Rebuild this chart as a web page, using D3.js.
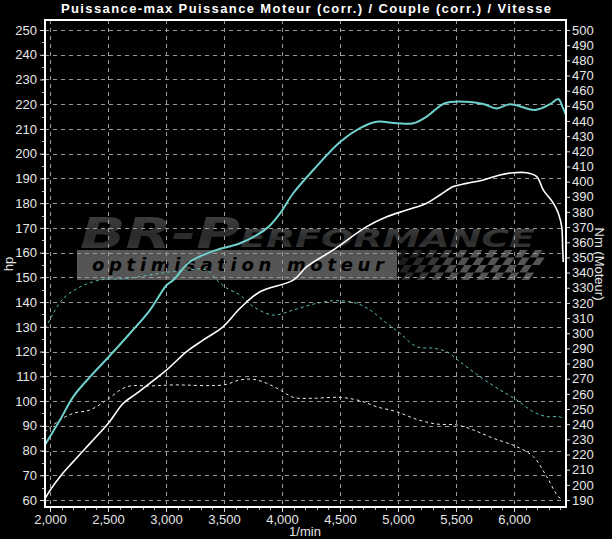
<!DOCTYPE html>
<html><head><meta charset="utf-8">
<script src="https://cdn.jsdelivr.net/npm/d3@7"></script>
<style>
html,body{margin:0;padding:0;background:#000;}
svg{display:block;}
</style></head>
<body>
<svg id="chart" width="612" height="539"></svg>
<script>
// ---------- DATA ----------
const title = "Puissance-max Puissance Moteur (corr.) / Couple (corr.) / Vitesse";
const xTicks = [2000, 2500, 3000, 3500, 4000, 4500, 5000, 5500, 6000];
const hpTicks = d3.range(60, 251, 10);
const nmTicks = d3.range(190, 501, 10);

// Power (tuned) – cyan solid, hp
const rpmPowerTuned = [1957,1966,2086,2201,2345,2503,2690,2862,3006,3063,3207,3437,3638,3868,3983,4097,4270,4500,4672,4816,4989,5132,5247,5405,5592,5735,5851,5966,6181,6310,6382,6422,6448];
const hpPowerTuned  = [82.2,83.0,92.3,101.8,109.8,117.7,127.4,136.8,146.9,148.9,156.3,161.1,163.8,169.8,175.9,184.0,193.4,204.7,210.3,212.9,212.3,212.3,215.0,220.4,221.0,220.1,218.3,220.0,217.7,220.0,222.1,218.5,215.6];

// Power (stock) – white solid, hp
const rpmPowerStock = [1957,1966,2086,2201,2345,2503,2632,2747,3006,3178,3322,3494,3638,3810,4097,4213,4442,4730,4903,5075,5247,5362,5477,5592,5735,5879,5994,6110,6196,6253,6339,6382,6411,6420,6425];
const hpPowerStock  = [60.4,61.3,69.4,75.5,82.9,91.0,99.1,103.1,112.6,120.0,124.7,130.1,137.5,144.2,148.9,154.3,161.1,170.5,174.5,177.2,180.0,183.3,186.7,188.0,189.4,191.4,192.3,192.3,190.7,185.3,180.0,175.9,170.5,161.0,156.2];

// Torque (tuned) – cyan dashed, Nm
const rpmTorqueTuned = [1957,1966,2028,2115,2259,2431,2661,2948,3178,3351,3437,3523,3638,3753,3925,4097,4299,4472,4644,4759,4903,5017,5161,5305,5420,5534,5707,5879,6023,6167,6282,6382,6425];
const nmTorqueTuned  = [303.5,304.3,313.1,323.0,330.5,335.1,336.2,339.5,341.7,341.7,335.1,329.8,325.2,317.5,312.0,315.3,319.7,321.5,319.7,315.3,306.6,300.0,291.1,290.1,287.8,281.2,271.3,262.6,256.0,248.2,245.0,245.0,244.0];

// Torque (stock) – white dashed, Nm
const rpmTorqueStock = [1957,2086,2201,2345,2489,2661,2862,3063,3494,3638,3753,3868,3983,4097,4270,4500,4672,4816,4989,5161,5334,5506,5649,5822,6023,6167,6282,6382,6420];
const nmTorqueStock  = [234.9,242.8,247.2,249.4,256.0,264.7,265.2,265.9,265.9,269.2,269.6,267.0,262.6,257.7,257.1,257.7,255.5,251.5,248.2,243.2,240.1,239.5,236.2,230.7,225.2,218.6,205.4,192.2,190.5];

// ---------- LAYOUT ----------
const svg = d3.select("#chart");
const frame = {left:45, right:566, top:20, bottom:507};
const x  = d3.scaleLinear().domain([2000, 6000]).range([50, 514]);
const yL = d3.scaleLinear().domain([60, 250]).range([500, 30]);
const yR = d3.scaleLinear().domain([190, 500]).range([500, 30]);
const FONT = "'Liberation Sans Narrow','Arial Narrow','Liberation Sans',Arial,sans-serif";

svg.append("rect").attr("width",612).attr("height",539).attr("fill","#000");

svg.append("defs").append("clipPath").attr("id","plotclip")
  .append("rect").attr("x",frame.left).attr("y",frame.top)
  .attr("width",frame.right-frame.left).attr("height",frame.bottom-frame.top);

// ---------- WATERMARK ----------
const wm = svg.append("g");
const grad = svg.select("defs").append("linearGradient").attr("id","wmgrad")
  .attr("x1","0").attr("y1","0").attr("x2","0").attr("y2","1");
grad.append("stop").attr("offset","0%").attr("stop-color","#454545");
grad.append("stop").attr("offset","55%").attr("stop-color","#2a2a2a");
grad.append("stop").attr("offset","100%").attr("stop-color","#3e3e3e");
wm.append("text").attr("x",80).attr("y",248)
  .attr("font-family","'DejaVu Sans',sans-serif").attr("font-weight","bold").attr("font-style","italic")
  .attr("font-size",42).attr("fill","url(#wmgrad)")
  .attr("textLength",160).attr("lengthAdjust","spacingAndGlyphs")
  .text("BR-P");
wm.append("text").attr("x",240).attr("y",247)
  .attr("font-family","'DejaVu Sans',sans-serif").attr("font-weight","bold").attr("font-style","italic")
  .attr("font-size",25).attr("fill","url(#wmgrad)")
  .attr("textLength",295).attr("lengthAdjust","spacingAndGlyphs")
  .text("ERFORMANCE");
wm.append("rect").attr("x",77).attr("y",250).attr("width",320).attr("height",30).attr("fill","#555");
wm.append("text").attr("x",92).attr("y",271)
  .attr("font-family","'DejaVu Sans',sans-serif").attr("font-weight","bold").attr("font-style","italic")
  .attr("font-size",18).attr("fill","#000")
  .attr("textLength",292).attr("lengthAdjust","spacing")
  .text("optimisation moteur");
// checkered flag
const flag = wm.append("g").attr("transform","translate(400,250) skewX(-35)");
const cs = 7.5;
for (let r = 0; r < 4; r++) {
  for (let c = 0; c < 20; c++) {
    if ((r + c) % 2 === 0) {
      flag.append("rect").attr("x", c*cs).attr("y", r*cs).attr("width", cs).attr("height", cs)
        .attr("fill", "#555").attr("opacity", Math.min(1, 0.25 + c*0.08));
    }
  }
}

// ---------- GRID ----------
const grid = svg.append("g").attr("stroke","#9a9a9a").attr("stroke-width",1).attr("stroke-dasharray","4,4");
grid.selectAll("line.h").data(hpTicks).join("line")
  .attr("x1",frame.left).attr("x2",frame.right)
  .attr("y1",d=>Math.round(yL(d))+0.5).attr("y2",d=>Math.round(yL(d))+0.5);
grid.selectAll("line.v").data(xTicks).join("line")
  .attr("y1",frame.top).attr("y2",frame.bottom)
  .attr("x1",d=>Math.round(x(d))+0.5).attr("x2",d=>Math.round(x(d))+0.5);

// ---------- CURVES ----------
const plot = svg.append("g").attr("clip-path","url(#plotclip)");
function drawSeries(rpms, vals, scale, color, width, dash) {
  const pts = rpms.map((r,i)=>[r, vals[i]]);
  const line = d3.line().x(d=>x(d[0])).y(d=>scale(d[1])).curve(d3.curveCatmullRom.alpha(0.5));
  const p = plot.append("path").datum(pts).attr("d",line)
    .attr("fill","none").attr("stroke",color).attr("stroke-width",width)
    .attr("stroke-linejoin","round");
  if (dash) p.attr("stroke-dasharray",dash);
}
drawSeries(rpmTorqueTuned, nmTorqueTuned, yR, "#5cbdb9", 1, "3,3");
drawSeries(rpmTorqueStock, nmTorqueStock, yR, "#ececec", 1, "3,3");
drawSeries(rpmPowerStock, hpPowerStock, yL, "#ffffff", 1.6, null);
drawSeries(rpmPowerTuned, hpPowerTuned, yL, "#6fd0cc", 2, null);

// ---------- AXES ----------
function styleAxis(g) {
  g.select(".domain").remove();
  g.selectAll(".tick line").attr("stroke","#ddd");
  g.selectAll(".tick text").attr("fill","#e6e6e6").attr("font-family",FONT).attr("font-size",13);
}
// minor ticks
const minor = svg.append("g").attr("stroke","#bbb").attr("stroke-width",1);
minor.selectAll("line.ml").data(d3.range(60, 251, 5)).join("line")
  .attr("x1",frame.left-3).attr("x2",frame.left).attr("y1",d=>Math.round(yL(d))+0.5).attr("y2",d=>Math.round(yL(d))+0.5);
minor.selectAll("line.mb").data(d3.range(1900, 6401, 100).filter(v=>x(v)>frame.left && x(v)<frame.right)).join("line")
  .attr("y1",frame.bottom).attr("y2",frame.bottom+3).attr("x1",d=>Math.round(x(d))+0.5).attr("x2",d=>Math.round(x(d))+0.5);

svg.append("g").attr("transform",`translate(${frame.left},0)`)
  .call(d3.axisLeft(yL).tickValues(hpTicks).tickSize(5).tickPadding(3).tickFormat(d3.format("d")))
  .call(styleAxis);
svg.append("g").attr("transform",`translate(${frame.right},0)`)
  .call(d3.axisRight(yR).tickValues(nmTicks).tickSize(4).tickPadding(2).tickFormat(d3.format("d")))
  .call(styleAxis);
svg.append("g").attr("transform",`translate(0,${frame.bottom})`)
  .call(d3.axisBottom(x).tickValues(xTicks).tickSize(5).tickPadding(3).tickFormat(d3.format(",")))
  .call(styleAxis);

// frame
svg.append("rect").attr("x",frame.left).attr("y",frame.top)
  .attr("width",frame.right-frame.left).attr("height",frame.bottom-frame.top)
  .attr("fill","none").attr("stroke","#fff").attr("stroke-width",2);

// ---------- TITLES ----------
svg.append("text").attr("x",306).attr("y",13).attr("text-anchor","middle")
  .attr("font-family","'Liberation Sans',Arial,sans-serif").attr("font-weight","bold").attr("font-size",13)
  .attr("fill","#fff").attr("textLength",490).attr("lengthAdjust","spacing").text(title);
svg.append("text").attr("transform","translate(13,264) rotate(-90)").attr("text-anchor","middle")
  .attr("font-family",FONT).attr("font-size",13).attr("fill","#e6e6e6").text("hp");
svg.append("text").attr("transform","translate(595,264) rotate(90)").attr("text-anchor","middle")
  .attr("font-family",FONT).attr("font-size",13).attr("fill","#e6e6e6").text("Nm (Moteur)");
svg.append("text").attr("x",305).attr("y",536).attr("text-anchor","middle")
  .attr("font-family",FONT).attr("font-size",13).attr("fill","#e6e6e6").text("1/min");
</script>
</body></html>
